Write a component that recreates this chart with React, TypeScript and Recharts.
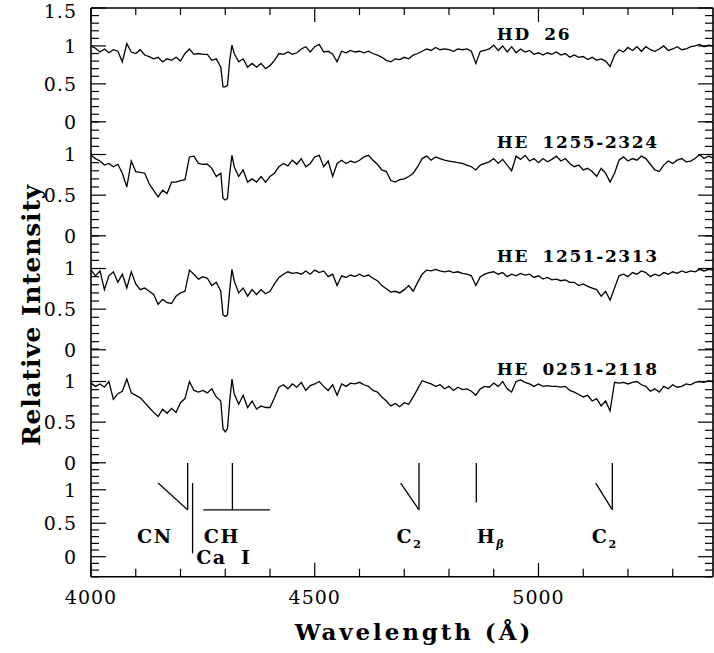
import React from 'react';
import { LineChart, Line, XAxis, YAxis, ReferenceLine, ReferenceDot } from 'recharts';

// wavelength grid (Å); a few extra points around the CH G band
const WAVE = [
  4000, 4010, 4020, 4030, 4040, 4050, 4060, 4070, 4080, 4090,
  4100, 4110, 4120, 4130, 4140, 4150, 4160, 4170, 4180, 4190,
  4200, 4210, 4220, 4230, 4240, 4250, 4260, 4270, 4280, 4290, 4295,
  4300, 4305, 4310, 4315, 4320, 4330, 4340, 4350, 4360, 4370, 4380, 4390,
  4400, 4410, 4420, 4430, 4440, 4450, 4460, 4470, 4480, 4490,
  4500, 4510, 4520, 4530, 4540, 4550, 4560, 4570, 4580, 4590,
  4600, 4610, 4620, 4630, 4640, 4650, 4660, 4670, 4680, 4690,
  4700, 4710, 4720, 4730, 4740, 4750, 4760, 4770, 4780, 4790,
  4800, 4810, 4820, 4830, 4840, 4850, 4860, 4870, 4880, 4890,
  4900, 4910, 4920, 4930, 4940, 4950, 4960, 4970, 4980, 4990,
  5000, 5010, 5020, 5030, 5040, 5050, 5060, 5070, 5080, 5090,
  5100, 5110, 5120, 5130, 5140, 5150, 5160, 5170, 5180, 5190,
  5200, 5210, 5220, 5230, 5240, 5250, 5260, 5270, 5280, 5290,
  5300, 5310, 5320, 5330, 5340, 5350, 5360, 5370, 5380, 5390,
];

const HD26 = [
  1.00, 0.97, 0.92, 0.96, 0.91, 0.95, 0.93, 0.79, 1.03, 0.92,
  0.90, 0.95, 0.88, 0.86, 0.83, 0.85, 0.79, 0.83, 0.81, 0.85,
  0.80, 0.90, 0.96, 0.89, 0.90, 0.89, 0.89, 0.81, 0.83, 0.72, 0.46,
  0.46, 0.48, 0.81, 1.01, 0.90, 0.79, 0.83, 0.72, 0.77, 0.72, 0.77, 0.70,
  0.74, 0.81, 0.90, 0.89, 0.92, 0.89, 0.91, 0.96, 0.99, 0.92,
  0.99, 1.02, 0.92, 0.93, 0.89, 0.79, 0.93, 0.91, 0.94, 0.92,
  0.93, 0.91, 0.93, 0.90, 0.88, 0.85, 0.81, 0.79, 0.83, 0.82,
  0.85, 0.83, 0.88, 0.90, 0.93, 0.96, 0.94, 0.98, 0.95, 0.96,
  0.95, 0.93, 0.96, 0.95, 0.96, 0.93, 0.77, 0.93, 0.94, 0.96,
  1.01, 0.94, 1.00, 0.92, 0.99, 0.91, 0.96, 0.92, 0.94, 0.89,
  0.91, 0.88, 0.91, 0.89, 0.92, 0.88, 0.90, 0.85, 0.88, 0.85,
  0.86, 0.82, 0.85, 0.81, 0.83, 0.80, 0.73, 0.88, 0.95, 0.92,
  0.98, 0.94, 0.99, 0.93, 0.99, 0.95, 0.93, 0.96, 1.00, 0.94,
  0.96, 0.99, 0.95, 0.96, 0.99, 1.00, 1.02, 0.99, 1.01, 1.00,
];

const HE1255 = [
  0.99, 0.95, 0.92, 0.87, 0.89, 0.85, 0.88, 0.77, 0.60, 0.92,
  0.79, 0.78, 0.77, 0.64, 0.56, 0.48, 0.56, 0.52, 0.66, 0.66,
  0.68, 0.69, 0.97, 0.98, 0.89, 0.88, 0.88, 0.83, 0.73, 0.77, 0.46,
  0.44, 0.46, 0.77, 0.99, 0.85, 0.73, 0.81, 0.66, 0.70, 0.66, 0.73, 0.66,
  0.73, 0.77, 0.85, 0.89, 0.86, 0.93, 0.88, 0.95, 0.85, 0.89,
  0.97, 0.99, 0.85, 0.92, 0.73, 0.89, 0.93, 0.89, 0.92, 0.90,
  0.93, 0.97, 0.99, 0.93, 0.88, 0.81, 0.79, 0.68, 0.66, 0.69,
  0.70, 0.73, 0.77, 0.85, 0.95, 0.98, 0.93, 0.97, 0.95, 0.93,
  0.92, 0.91, 0.90, 0.89, 0.87, 0.85, 0.81, 0.87, 0.89, 0.91,
  0.95, 0.89, 0.94, 0.87, 0.80, 0.98, 0.94, 0.99, 0.92, 0.95,
  0.90, 0.95, 0.91, 0.94, 0.98, 0.92, 0.95, 0.89, 0.85, 0.87,
  0.81, 0.83, 0.79, 0.73, 0.83, 0.77, 0.66, 0.77, 0.93, 0.97,
  0.92, 0.95, 0.93, 0.98, 0.95, 0.88, 0.81, 0.79, 0.87, 0.92,
  0.89, 0.93, 0.95, 0.91, 0.92, 0.95, 1.00, 0.95, 0.98, 0.96,
];

const HE1251 = [
  0.98, 0.91, 0.97, 0.74, 0.91, 0.96, 0.83, 0.93, 0.76, 0.96,
  0.81, 0.74, 0.76, 0.72, 0.68, 0.56, 0.62, 0.58, 0.57, 0.66,
  0.70, 0.72, 0.98, 0.93, 0.87, 0.90, 0.88, 0.79, 0.83, 0.72, 0.43,
  0.41, 0.43, 0.74, 0.99, 0.85, 0.70, 0.76, 0.66, 0.74, 0.68, 0.74, 0.69,
  0.72, 0.81, 0.89, 0.93, 0.96, 0.94, 0.95, 0.93, 0.97, 0.93,
  0.98, 0.95, 0.97, 0.90, 0.93, 0.79, 0.91, 0.89, 0.92, 0.90,
  0.93, 0.90, 0.92, 0.88, 0.85, 0.79, 0.75, 0.71, 0.72, 0.70,
  0.74, 0.79, 0.72, 0.83, 0.93, 0.98, 0.97, 0.99, 0.97, 0.96,
  0.97, 0.95, 0.96, 0.94, 0.93, 0.91, 0.79, 0.90, 0.93, 0.95,
  0.96, 0.93, 0.95, 0.90, 0.93, 0.91, 0.94, 0.92, 0.93, 0.89,
  0.91, 0.87, 0.89, 0.86, 0.87, 0.85, 0.86, 0.83, 0.83, 0.79,
  0.81, 0.78, 0.76, 0.74, 0.66, 0.72, 0.61, 0.76, 0.91, 0.93,
  0.90, 0.95, 0.93, 0.97, 0.95, 0.90, 0.93, 0.91, 0.95, 0.93,
  0.96, 0.94, 0.97, 0.95, 0.97, 0.96, 0.99, 0.97, 0.99, 0.98,
];

const HE0251 = [
  0.98, 0.94, 0.97, 0.93, 1.00, 0.78, 0.85, 0.88, 1.03, 0.86,
  0.83, 0.80, 0.74, 0.68, 0.62, 0.57, 0.66, 0.61, 0.67, 0.62,
  0.74, 0.79, 1.00, 0.89, 0.87, 0.89, 0.86, 0.91, 0.81, 0.76, 0.42,
  0.38, 0.42, 0.76, 1.03, 0.85, 0.72, 0.83, 0.68, 0.76, 0.66, 0.70, 0.68,
  0.68, 0.80, 0.93, 0.96, 0.91, 0.97, 0.93, 0.99, 0.89, 0.95,
  0.97, 1.00, 0.94, 0.89, 0.96, 0.83, 0.97, 0.94, 0.98, 0.97,
  0.99, 0.96, 0.94, 0.89, 0.87, 0.81, 0.76, 0.70, 0.73, 0.69,
  0.74, 0.72, 0.81, 0.91, 1.01, 0.99, 0.97, 0.94, 0.96, 0.91,
  0.94, 0.89, 0.93, 0.90, 0.91, 0.88, 0.83, 0.91, 0.94, 0.93,
  0.98, 0.94, 1.00, 0.91, 0.87, 1.00, 1.02, 0.99, 0.97, 0.94,
  0.97, 0.94, 0.95, 0.94, 0.94, 0.93, 0.94, 0.89, 0.87, 0.84,
  0.81, 0.83, 0.76, 0.79, 0.70, 0.76, 0.64, 0.99, 0.98, 0.99,
  0.97, 0.99, 1.00, 0.96, 0.94, 0.88, 0.91, 0.87, 0.94, 0.91,
  0.96, 0.93, 0.94, 0.97, 0.96, 0.99, 1.00, 0.99, 1.01, 1.00,
];

const STARS = ['HD 26', 'HE 1255-2324', 'HE 1251-2313', 'HE 0251-2118'];
const SPECTRA = [HD26, HE1255, HE1251, HE0251];

const X_TICKS = [4000, 4100, 4200, 4300, 4400, 4500, 4600, 4700, 4800, 4900, 5000, 5100, 5200, 5300];
const X_LABELS = [4000, 4500, 5000];
const Y_TICKS_TOP = [0, 0.1, 0.2, 0.3, 0.4, 0.5, 0.6, 0.7, 0.8, 0.9, 1, 1.1, 1.2, 1.3, 1.4, 1.5];
const Y_TICKS_MID = [0, 0.1, 0.2, 0.3, 0.4, 0.5, 0.6, 0.7, 0.8, 0.9, 1, 1.1, 1.2, 1.3, 1.4];
const Y_TICKS_BOT = [-0.3, -0.2, -0.1, 0, 0.1, 0.2, 0.3, 0.4, 0.5, 0.6, 0.7, 0.8, 0.9, 1, 1.1, 1.2, 1.3, 1.4];

// line identifications: [x1, y1, x2, y2]
const MARK_SEGMENTS = [
  [4216, 1.4, 4216, 0.7],
  [4150, 1.1, 4216, 0.7],
  [4227, 1.1, 4227, 0.05],
  [4316, 1.4, 4316, 0.7],
  [4251, 0.7, 4400, 0.7],
  [4733, 1.4, 4733, 0.7],
  [4692, 1.1, 4733, 0.7],
  [4861, 1.4, 4861, 0.81],
  [5165, 1.4, 5165, 0.7],
  [5128, 1.1, 5165, 0.7],
];
const MARK_LABELS = [
  { x: 4103, y: 0.3, main: 'CN', sub: '' },
  { x: 4252, y: 0.3, main: 'CH', sub: '' },
  { x: 4235, y: 0, main: 'Ca I', sub: '' },
  { x: 4683, y: 0.3, main: 'C', sub: '2' },
  { x: 4862, y: 0.3, main: 'H', sub: 'β' },
  { x: 5119, y: 0.3, main: 'C', sub: '2' },
];

const W = 714;
const TOP = 8;
const PANEL_H = 113.8;
const LEFT_W = 91;
const BOTTOM_H = 76;
const FONT = "'DejaVu Serif', serif";
const AXIS_LINE = { stroke: '#000', strokeWidth: 1.6 };

const isMajor = (v: number) => Math.abs(v * 2 - Math.round(v * 2)) < 1e-6;

const LeftTick = (props: any) => {
  const { x, y, payload } = props;
  const major = isMajor(payload.value);
  // keep the topmost label inside the page
  const ly = payload.value === 1.5 ? y + 3 : y;
  return (
    <g>
      <line x1={x} x2={x + (major ? 15 : 8)} y1={y} y2={y} stroke="#000" strokeWidth={1.2} />
      {major && (
        <text x={x - 14} y={ly} dy="0.36em" textAnchor="end" fontFamily={FONT} fontSize={19} letterSpacing={1} fill="#000">
          {String(payload.value)}
        </text>
      )}
    </g>
  );
};

const RightTick = (props: any) => {
  const { x, y, payload } = props;
  const major = isMajor(payload.value);
  return <line x1={x} x2={x - (major ? 15 : 8)} y1={y} y2={y} stroke="#000" strokeWidth={1.2} />;
};

const TopTick = (props: any) => {
  const { x, y, payload } = props;
  const major = payload.value % 500 === 0;
  return <line x1={x} x2={x} y1={y} y2={y + (major ? 14 : 7)} stroke="#000" strokeWidth={1.2} />;
};

const BottomTick = (props: any) => {
  const { x, y, payload } = props;
  const major = payload.value % 500 === 0;
  return (
    <g>
      <line x1={x} x2={x} y1={y} y2={y - (major ? 14 : 8)} stroke="#000" strokeWidth={1.2} />
      {X_LABELS.includes(payload.value) && (
        <text x={x} y={y + 20} dy="0.36em" textAnchor="middle" fontFamily={FONT} fontSize={19} letterSpacing={1} fill="#000">
          {String(payload.value)}
        </text>
      )}
    </g>
  );
};

const BoldText = ({ viewBox, main, sub, size = 18 }: any) => (
  <text x={viewBox.x} y={viewBox.y} dy="0.36em" fontFamily={FONT} fontWeight="bold" fontSize={size} letterSpacing={1.6} wordSpacing={6} fill="#000">
    {main}
    {sub && (
      <tspan fontSize={11} dy={5} fontStyle={sub === 'β' ? 'italic' : 'normal'}>{sub}</tspan>
    )}
  </text>
);

const yAxes = (domain: number[], ticks: number[]) => [
  <YAxis key="l" yAxisId="l" type="number" domain={domain} allowDataOverflow ticks={ticks} interval={0} width={LEFT_W}
    tickSize={0} tickMargin={0} tickLine={false} axisLine={AXIS_LINE} tick={<LeftTick />} />,
  <YAxis key="r" yAxisId="r" orientation="right" type="number" domain={domain} allowDataOverflow ticks={ticks} interval={0} width={1}
    tickSize={0} tickMargin={0} tickLine={false} axisLine={AXIS_LINE} tick={<RightTick />} />,
];

const SpectrumPanel = ({ index }: { index: number }) => {
  const first = index === 0;
  const values = SPECTRA[index];
  const data = WAVE.map((w, i) => ({ w, v: values[i] }));
  const domain = first ? [0, 1.5] : [0, 1.4];
  const ticks = first ? Y_TICKS_TOP : Y_TICKS_MID;
  const top = first ? 0 : TOP + index * PANEL_H;
  return (
    <div style={{ position: 'absolute', left: 0, top }}>
      <LineChart width={W} height={PANEL_H + (first ? TOP : 0)} data={data} margin={{ top: 0, right: 0, bottom: 0, left: 0 }}>
        <XAxis dataKey="w" type="number" domain={[4000, 5390]} allowDataOverflow ticks={X_TICKS} interval={0}
          hide={!first} orientation="top" height={TOP} tickSize={0} tickMargin={0} tickLine={false}
          axisLine={AXIS_LINE} tick={<TopTick />} />
        {yAxes(domain, ticks)}
        <Line yAxisId="l" type="linear" dataKey="v" stroke="#000" strokeWidth={1.3} dot={false} isAnimationActive={false} />
        <ReferenceDot yAxisId="l" x={4907} y={1.16} r={0} fill="none" stroke="none"
          label={(p: any) => <BoldText viewBox={p.viewBox} main={STARS[index]} size={17} />} />
      </LineChart>
    </div>
  );
};

const MarkerPanel = () => {
  const data = WAVE.map((w) => ({ w }));
  return (
    <div style={{ position: 'absolute', left: 0, top: TOP + 4 * PANEL_H }}>
      <LineChart width={W} height={PANEL_H + BOTTOM_H} data={data} margin={{ top: 0, right: 0, bottom: 0, left: 0 }}>
        <XAxis dataKey="w" type="number" domain={[4000, 5390]} allowDataOverflow ticks={X_TICKS} interval={0}
          orientation="bottom" height={BOTTOM_H} tickSize={0} tickMargin={0} tickLine={false}
          axisLine={AXIS_LINE} tick={<BottomTick />}
          label={(p: any) => {
            const vb = p.viewBox;
            return (
              <text x={vb.x + vb.width / 2 + 12} y={vb.y + 55} dy="0.36em" textAnchor="middle" fontFamily={FONT}
                fontWeight="bold" fontSize={23} letterSpacing={2.9} fill="#000">
                Wavelength (Å)
              </text>
            );
          }} />
        {yAxes([-0.3, 1.4], Y_TICKS_BOT)}
        {MARK_SEGMENTS.map((s, i) => (
          <ReferenceLine key={'s' + i} yAxisId="l" segment={[{ x: s[0], y: s[1] }, { x: s[2], y: s[3] }]}
            stroke="#000" strokeWidth={1.3} />
        ))}
        {MARK_LABELS.map((m, i) => (
          <ReferenceDot key={'m' + i} yAxisId="l" x={m.x} y={m.y} r={0} fill="none" stroke="none"
            label={(p: any) => <BoldText viewBox={p.viewBox} main={m.main} sub={m.sub} size={19} />} />
        ))}
      </LineChart>
    </div>
  );
};

export default function App() {
  return (
    <div style={{ position: 'absolute', left: 0, top: 0, width: W, height: 653, background: '#fff' }}>
      <style>{'.recharts-surface{overflow:visible}'}</style>
      {SPECTRA.map((_, i) => (
        <SpectrumPanel key={i} index={i} />
      ))}
      <MarkerPanel />
      <svg width={W} height={653} style={{ position: 'absolute', left: 0, top: 0, pointerEvents: 'none' }}>
        <text transform="translate(40,315) rotate(-90)" textAnchor="middle" fontFamily={FONT} fontWeight="bold"
          fontSize={25} letterSpacing={0.8} fill="#000">
          Relative Intensity
        </text>
      </svg>
    </div>
  );
}
